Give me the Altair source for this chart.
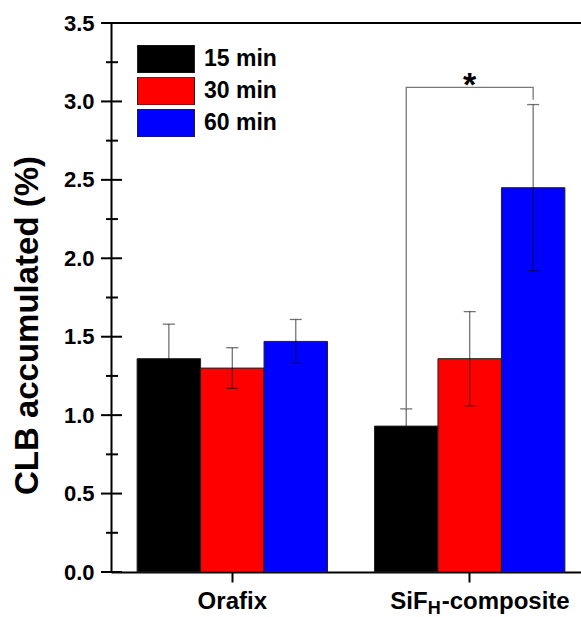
import altair as alt
import pandas as pd

# ---- data ----
groups = ["Orafix", "SiFH-composite"]
times = ["15 min", "30 min", "60 min"]
colors = ["#000000", "#ff0000", "#0000ff"]
means_orafix = [1.36, 1.30, 1.47]
errs_orafix = [0.22, 0.13, 0.14]
means_sif = [0.93, 1.36, 2.45]
errs_sif = [0.11, 0.30, 0.53]
major_ticks = [0.0, 0.5, 1.0, 1.5, 2.0, 2.5, 3.0, 3.5]
minor_ticks = [0.25, 0.75, 1.25, 1.75, 2.25, 2.75, 3.25]
# significance bracket (SiF 15 min vs 60 min)
bracket_times = ["15 min", "15 min", "60 min", "60 min"]
bracket_y = [1.045, 3.09, 3.09, 3.01]

FONT = "Liberation Sans"

rows = []
for g, ms, es in [(groups[0], means_orafix, errs_orafix), (groups[1], means_sif, errs_sif)]:
    for t, m, e in zip(times, ms, es):
        rows.append({"group": g, "time": t, "mean": m, "lo": m - e, "hi": m + e})
df = pd.DataFrame(rows)

bdf = pd.DataFrame({"group": [groups[1]] * 4, "time": bracket_times,
                    "y": bracket_y, "ord": list(range(4))})
tick_df = pd.DataFrame({"v": major_ticks + minor_ticks,
                        "kind": ["major"] * len(major_ticks) + ["minor"] * len(minor_ticks)})

xscale = alt.Scale(domain=groups, range=[0, 480], paddingInner=0.198, paddingOuter=0.11)
yscale = alt.Scale(domain=[0, 3.5], nice=False)
X = alt.X("group:N", scale=xscale, sort=groups,
          axis=alt.Axis(title=None, labels=False, ticks=True, tickSize=10, tickWidth=2,
                        tickColor="black", domainColor="black", domainWidth=2))
XO = alt.XOffset("time:N", sort=times, scale=alt.Scale(domain=times))
Y = alt.Y("mean:Q", scale=yscale,
          axis=alt.Axis(title="CLB accumulated (%)", values=major_ticks, format=".1f",
                        ticks=False, tickSize=0, labelPadding=17, grid=False,
                        domainColor="black", domainWidth=2,
                        labelFont=FONT, labelFontSize=22, labelFontWeight="bold",
                        labelColor="black",
                        titleFont=FONT, titleFontSize=33, titleFontWeight="bold",
                        titleColor="black", titleX=-84, titleY=302,
                        titleBaseline="middle", titleAlign="center"))

rect_path = "M-1,-0.49L1,-0.49L1,0.49L-1,0.49Z"
bars = alt.Chart(df).mark_bar(stroke="#222222", strokeWidth=1).encode(
    x=X, xOffset=XO, y=Y,
    fill=alt.Fill("time:N", sort=times, scale=alt.Scale(domain=times, range=colors),
                  legend=alt.Legend(title=None, orient="none", legendX=26, legendY=22,
                                    symbolType=rect_path, symbolSize=3249,
                                    symbolStrokeColor="#222222", symbolStrokeWidth=1,
                                    symbolOpacity=1, clipHeight=28, rowPadding=4,
                                    padding=0, labelOffset=9,
                                    labelFont=FONT, labelFontSize=23,
                                    labelFontWeight="bold", labelColor="black")),
)

EB = dict(color="black", opacity=0.55)
err = alt.Chart(df).mark_rule(strokeWidth=1.3, **EB).encode(
    x=alt.X("group:N", scale=xscale, sort=groups), xOffset=XO,
    y=alt.Y("lo:Q", scale=yscale), y2="hi:Q")
cap_hi = alt.Chart(df).mark_tick(thickness=1.3, size=12, orient="horizontal", **EB).encode(
    x=alt.X("group:N", scale=xscale, sort=groups), xOffset=XO,
    y=alt.Y("hi:Q", scale=yscale))
cap_lo = alt.Chart(df).mark_tick(thickness=1.3, size=12, orient="horizontal", **EB).encode(
    x=alt.X("group:N", scale=xscale, sort=groups), xOffset=XO,
    y=alt.Y("lo:Q", scale=yscale))

bracket = alt.Chart(bdf).mark_line(color="#777777", strokeWidth=1.3).encode(
    x=alt.X("group:N", scale=xscale, sort=groups), xOffset=XO,
    y=alt.Y("y:Q", scale=yscale), order="ord:Q")
star = alt.Chart(pd.DataFrame({"group": [groups[1]], "y": [max(bracket_y)], "t": ["*"]})).mark_text(
    font=FONT, fontSize=34, fontWeight="bold", color="black", baseline="alphabetic", dy=9
).encode(x=alt.X("group:N", scale=xscale, sort=groups), y=alt.Y("y:Q", scale=yscale), text="t:N")

lab_df = pd.DataFrame({"group": groups})
lab_or = alt.Chart(lab_df[lab_df.group == "Orafix"]).mark_text(
    font=FONT, fontSize=24, fontWeight="bold", color="black", baseline="alphabetic", align="center"
).encode(x=alt.X("group:N", scale=xscale, sort=groups), y=alt.value(586), text=alt.value("Orafix"))
sif_df = lab_df[lab_df.group == groups[1]]
lab_s1 = alt.Chart(sif_df).mark_text(
    font=FONT, fontSize=24, fontWeight="bold", color="black", baseline="alphabetic", align="right", dx=-42
).encode(x=alt.X("group:N", scale=xscale, sort=groups), y=alt.value(586), text=alt.value("SiF"))
lab_s2 = alt.Chart(sif_df).mark_text(
    font=FONT, fontSize=18, fontWeight="bold", color="black", baseline="alphabetic", align="left", dx=-42, dy=5
).encode(x=alt.X("group:N", scale=xscale, sort=groups), y=alt.value(586), text=alt.value("H"))
lab_s3 = alt.Chart(sif_df).mark_text(
    font=FONT, fontSize=24, fontWeight="bold", color="black", baseline="alphabetic", align="left", dx=-28
).encode(x=alt.X("group:N", scale=xscale, sort=groups), y=alt.value(586), text=alt.value("-composite"))

yt_major = alt.Chart(tick_df[tick_df.kind == "major"]).mark_rule(color="black", strokeWidth=2).encode(
    y=alt.Y("v:Q", scale=yscale), x=alt.value(-10), x2=alt.value(11))
yt_minor = alt.Chart(tick_df[tick_df.kind == "minor"]).mark_rule(color="black", strokeWidth=2).encode(
    y=alt.Y("v:Q", scale=yscale), x=alt.value(-5), x2=alt.value(7))
top_line = alt.Chart(pd.DataFrame({"v": [max(major_ticks)]})).mark_rule(color="black", strokeWidth=2).encode(
    y=alt.Y("v:Q", scale=yscale), x=alt.value(0), x2=alt.value(480))

chart = alt.layer(
    bars, err, cap_hi, cap_lo, bracket, star, lab_or, lab_s1, lab_s2, lab_s3,
    yt_major, yt_minor, top_line
).properties(
    width=470, height=549,
    autosize=alt.AutoSizeParams(type="none"),
    padding={"left": 111, "top": 23, "right": 0, "bottom": 45},
    background="white",
).configure_view(stroke=None)

chart.save("out.html", embed_options={"renderer": "svg", "actions": False})
